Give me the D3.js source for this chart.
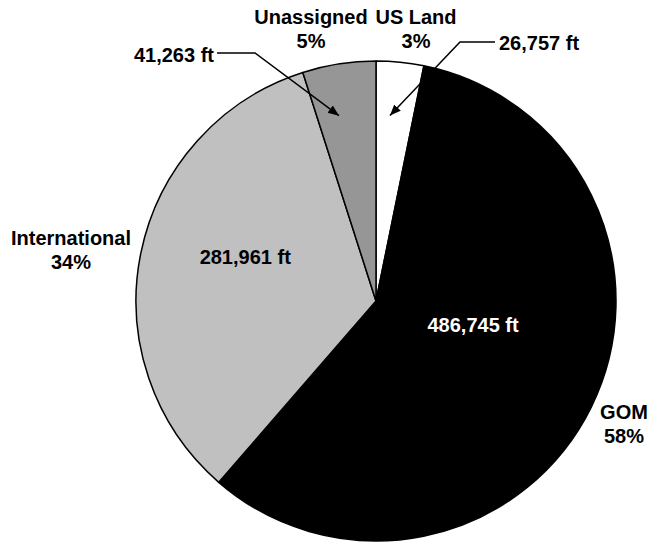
<!DOCTYPE html>
<html>
<head>
<meta charset="utf-8">
<script src="https://cdn.jsdelivr.net/npm/d3@7"></script>
<style>
  body { margin: 0; background: #fff; }
  text { font-family: "Liberation Sans", Arial, sans-serif; font-weight: bold; }
</style>
</head>
<body>
<div class="canvas"></div>
<script>
// data (feet drilled by area)
const categories = ['US Land', 'GOM', 'International', 'Unassigned'];
const footage = [26757, 486745, 281961, 41263];
const fills = ['#ffffff', '#000000', '#c0c0c0', '#969696'];

const width = 660, height = 542;
const cx = 376, cy = 301, radius = 240;
const fontSize = '20px';

const svg = d3.select('.canvas').append('svg')
    .attr('width', width)
    .attr('height', height);

// arrow head for the leader lines
svg.append('defs').append('marker')
    .attr('id', 'arrow')
    .attr('markerUnits', 'userSpaceOnUse')
    .attr('markerWidth', 12)
    .attr('markerHeight', 10)
    .attr('refX', 11)
    .attr('refY', 4.5)
    .attr('orient', 'auto')
  .append('path')
    .attr('d', 'M0,0 L11,4.5 L0,9 Z')
    .attr('fill', '#000');

const pie = d3.pie().sort(null).value(d => d);
const arcs = pie(footage);
const total = d3.sum(footage);
const arc = d3.arc().innerRadius(0).outerRadius(radius);

const g = svg.append('g')
    .attr('transform', `translate(${cx},${cy})`);

g.selectAll('path.slice')
  .data(arcs)
  .enter().append('path')
    .attr('class', 'slice')
    .attr('d', arc)
    .attr('fill', (d, i) => fills[i])
    .attr('stroke', '#000')
    .attr('stroke-width', 1.5)
    .attr('stroke-linejoin', 'round');

// polar helper: angle in degrees clockwise from 12 o'clock
const polar = (deg, r) => {
  const a = deg * Math.PI / 180;
  return [r * Math.sin(a), -r * Math.cos(a)];
};

const fmt = d3.format(',');
const pct = v => Math.round(v / total * 100) + '%';

// category name + percent labels (absolute page positions)
const nameSpots = {
  'US Land': [416, 24],
  'GOM': [624, 419],
  'International': [71, 245],
  'Unassigned': [311, 24]
};

categories.forEach((c, i) => {
  const [x, y] = nameSpots[c];
  const t = svg.append('text')
      .attr('x', x)
      .attr('y', y)
      .attr('text-anchor', 'middle')
      .style('font-size', fontSize)
      .attr('fill', '#000');
  t.append('tspan').attr('x', x).text(c);
  t.append('tspan').attr('x', x).attr('dy', 24).text(pct(footage[i]));
});

// inside value labels
const insideSpots = {
  'GOM': [103.9, 100, '#fff'],
  'International': [288.6, 138, '#000']
};
Object.keys(insideSpots).forEach(c => {
  const i = categories.indexOf(c);
  const [deg, r, col] = insideSpots[c];
  const [x, y] = polar(deg, r);
  g.append('text')
      .attr('x', x)
      .attr('y', y)
      .attr('dy', '0.35em')
      .attr('text-anchor', 'middle')
      .style('font-size', fontSize)
      .attr('fill', col)
      .text(fmt(footage[i]) + ' ft');
});

// outside value labels with arrows pointing into the thin slices
const calloutSpots = {
  'US Land': { text: [499, 50, 'start'], elbow: [[495, 42], [460, 42]], tip: [4.3, 186] },
  'Unassigned': { text: [214, 62, 'end'], elbow: [[217, 53], [255, 53]], tip: [-11.3, 189] }
};
Object.keys(calloutSpots).forEach(c => {
  const i = categories.indexOf(c);
  const s = calloutSpots[c];
  svg.append('text')
      .attr('x', s.text[0])
      .attr('y', s.text[1])
      .attr('text-anchor', s.text[2])
      .style('font-size', fontSize)
      .attr('fill', '#000')
      .text(fmt(footage[i]) + ' ft');
  const [tx, ty] = polar(s.tip[0], s.tip[1]);
  const pts = s.elbow.concat([[cx + tx, cy + ty]]);
  svg.append('path')
      .attr('d', d3.line()(pts))
      .attr('fill', 'none')
      .attr('stroke', '#000')
      .attr('stroke-width', 1.5)
      .attr('marker-end', 'url(#arrow)');
});
</script>
</body>
</html>
